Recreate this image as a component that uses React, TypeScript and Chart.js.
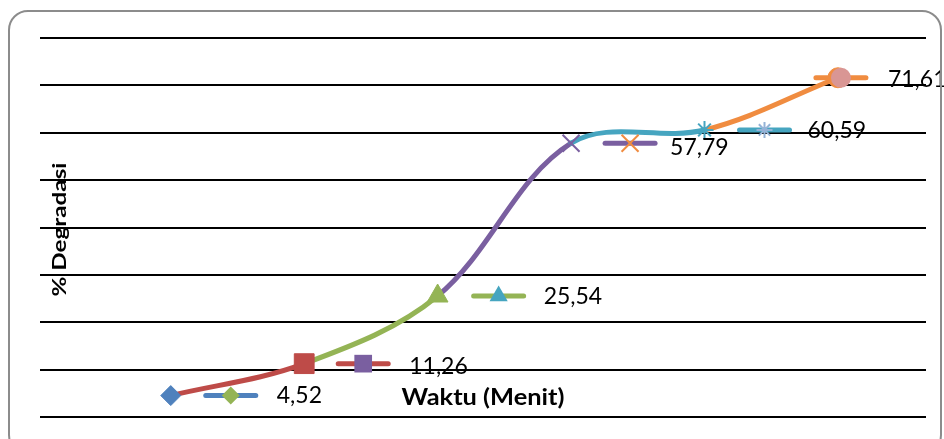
import { useEffect, useRef } from 'react';
import { Chart, registerables } from 'chart.js';
import { drawPoint } from 'chart.js/helpers';

Chart.register(...registerables);

// ---- data ----
const waktu = [1, 2, 3, 4, 5, 6];
const degradasi = [4.52, 11.26, 25.54, 57.79, 60.59, 71.61];
const labelTexts = ['4,52', '11,26', '25,54', '57,79', '60,59', '71,61'];
const yMin = 0;
const yMax = 80;
const yStep = 10;
const yTitle = '% Degradasi';
const xTitle = 'Waktu (Menit)';

// ---- styles ----
const BLUE = '#4F81BD';
const RED = '#BE4B48';
const GREEN = '#94B455';
const PURPLE = '#7A5FA0';
const TEAL = '#46A5C0';
const ORANGE = '#F08C40';
const LIGHTBLUE = '#95B3D7';
const PINK = '#D99694';

const pointStyles = ['rectRot', 'rect', 'triangle', 'crossRot', 'star', 'circle'];
const pointColors = [BLUE, RED, GREEN, PURPLE, TEAL, ORANGE];
const pointRadii = [10, 14, 12, 12, 9, 10];
const pointBorderWidths = [1, 1, 1, 2, 2, 1];
const segmentColors = [RED, GREEN, PURPLE, TEAL, ORANGE];
const keyLineColors = [BLUE, RED, GREEN, PURPLE, TEAL, ORANGE];
const keyMarkerColors = [GREEN, PURPLE, TEAL, ORANGE, LIGHTBLUE, PINK];
const keyMarkerRadii = [9, 12.5, 10.5, 12, 8, 10];
const keyOffsets = [60, 59, 61, 59, 60, 3];
const textOffsets = [106, 105, 106, 99, 103, 50];
const textDy = [0, 3, 1, 4, 1, 2];

function drawStretchedText(ctx: any, text: string, targetWidth: number) {
  const w = ctx.measureText(text).width;
  const s = targetWidth / w;
  ctx.save();
  ctx.scale(s, 1);
  ctx.fillText(text, 0, 0);
  ctx.restore();
}

const overlayPlugin = {
  id: 'overlay',
  afterDatasetsDraw(chart: any) {
    const ctx = chart.ctx;
    const meta = chart.getDatasetMeta(0);
    const area = chart.chartArea;
    ctx.save();
    meta.data.forEach((pt: any, i: number) => {
      const { x, y } = pt.getProps(['x', 'y'], true);
      const kx = x + keyOffsets[i];
      ctx.strokeStyle = keyLineColors[i];
      ctx.lineWidth = 5;
      ctx.lineCap = 'round';
      ctx.beginPath();
      ctx.moveTo(kx - 25, y);
      ctx.lineTo(kx + 25, y);
      ctx.stroke();
      ctx.lineCap = 'butt';
      ctx.fillStyle = keyMarkerColors[i];
      ctx.strokeStyle = keyMarkerColors[i];
      ctx.lineWidth = 2;
      drawPoint(
        ctx,
        {
          pointStyle: pointStyles[i],
          radius: keyMarkerRadii[i],
          rotation: 0,
          borderWidth: pointStyles[i].startsWith('cross') || pointStyles[i] === 'star' ? 2 : 0,
        } as any,
        kx,
        y
      );
      ctx.fillStyle = '#000';
      ctx.font = '23px Lato';
      ctx.textAlign = 'left';
      ctx.textBaseline = 'middle';
      ctx.fillText(labelTexts[i], x + textOffsets[i], y + textDy[i]);
    });

    // axis titles drawn inside the plot area, as in the reference
    ctx.fillStyle = '#000';
    ctx.textAlign = 'center';
    ctx.textBaseline = 'middle';

    ctx.save();
    ctx.font = 'bold 22px Lato';
    ctx.translate((area.left + area.right) / 2, area.bottom - 19);
    drawStretchedText(ctx, xTitle, 163);
    ctx.restore();

    ctx.save();
    ctx.font = 'bold 19px Lato';
    ctx.translate(area.left + 20, (area.top + area.bottom) / 2 + 2);
    ctx.rotate(-Math.PI / 2);
    drawStretchedText(ctx, yTitle, 134);
    ctx.restore();

    ctx.restore();
  },
};

export default function App() {
  const canvasRef = useRef<HTMLCanvasElement>(null);

  useEffect(() => {
    if (!canvasRef.current) return;
    const chart = new Chart(canvasRef.current, {
      type: 'line',
      data: {
        datasets: [
          {
            data: waktu.map((w, i) => ({ x: w, y: degradasi[i] })),
            borderWidth: 5,
            tension: 0.35,
            borderColor: RED,
            borderCapStyle: 'round',
            segment: {
              borderColor: (c: any) => segmentColors[c.p0DataIndex],
            },
            pointStyle: pointStyles as any,
            pointRadius: pointRadii,
            pointBackgroundColor: pointColors,
            pointBorderColor: pointColors,
            pointBorderWidth: pointBorderWidths,
            clip: false as any,
          },
        ],
      },
      options: {
        responsive: false,
        animation: false,
        devicePixelRatio: 1,
        layout: { padding: { left: 40, right: 18, top: 38, bottom: 22 } },
        plugins: {
          legend: { display: false },
          tooltip: { enabled: false },
        },
        scales: {
          x: {
            type: 'linear',
            display: false,
            min: 0.02,
            max: 6.66,
          },
          y: {
            min: yMin,
            max: yMax,
            ticks: { display: false, stepSize: yStep },
            border: { display: false },
            grid: { color: '#000', lineWidth: 2, drawTicks: false },
          },
        },
      },
      plugins: [overlayPlugin],
    });
    return () => chart.destroy();
  }, []);

  return (
    <div
      style={{
        position: 'absolute',
        left: 0,
        top: 0,
        width: 944,
        height: 439,
        background: '#fff',
        overflow: 'hidden',
      }}
    >
      <canvas
        ref={canvasRef}
        width={944}
        height={439}
        style={{ position: 'absolute', left: 0, top: 0, width: 944, height: 439 }}
      />
      <div
        style={{
          position: 'absolute',
          left: 8,
          top: 10,
          width: 934,
          height: 445,
          boxSizing: 'border-box',
          border: '2px solid #8C8C8C',
          borderRadius: 20,
          pointerEvents: 'none',
        }}
      />
    </div>
  );
}
